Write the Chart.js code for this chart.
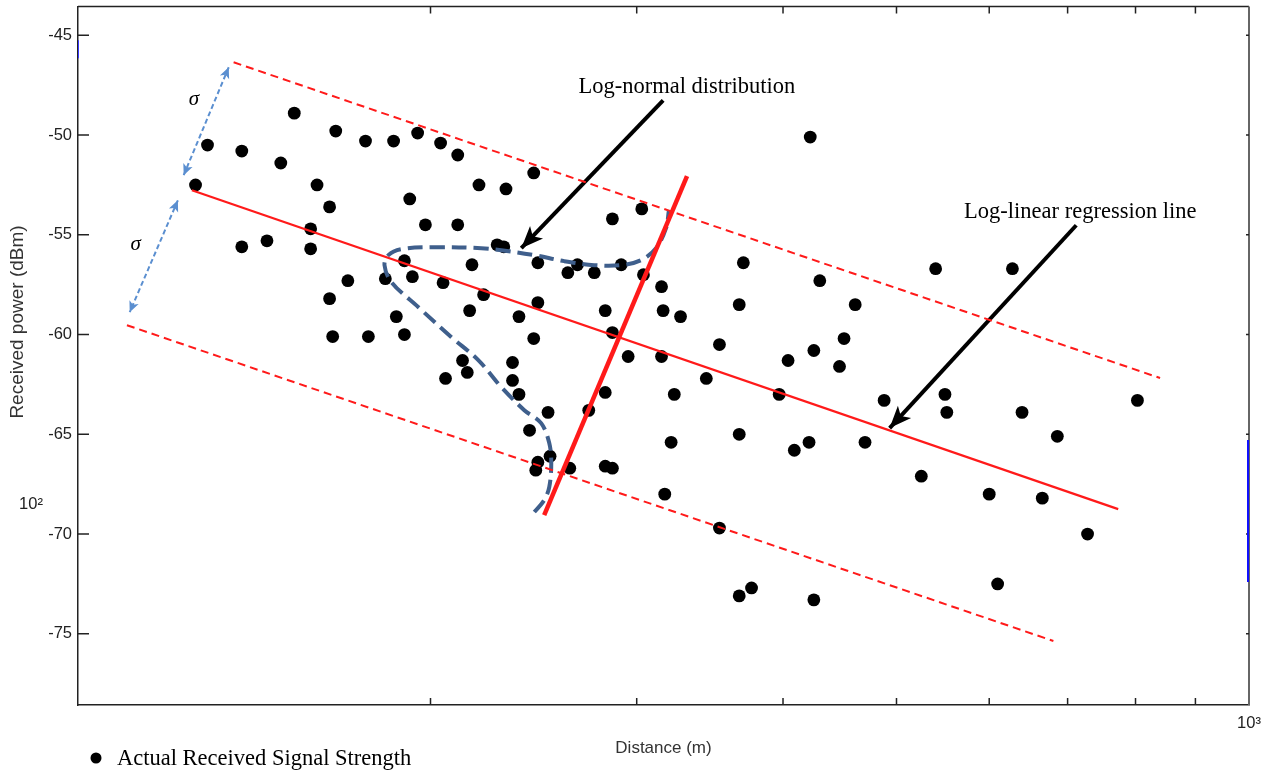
<!DOCTYPE html>
<html>
<head>
<meta charset="utf-8">
<script src="https://cdn.jsdelivr.net/npm/chart.js@4.4.1/dist/chart.umd.min.js"></script>
<style>
  html, body { margin: 0; padding: 0; background: #fff; }
  #wrap { width: 1266px; height: 773px; position: relative; }
</style>
</head>
<body>
<div id="wrap"><canvas id="chart"></canvas></div>
<script>
// measured received signal strength (distance in m, power in dBm)
const distance = [153, 129, 138, 149, 166, 176, 186, 195, 204, 211,
                  126, 160, 220, 164, 192, 198, 211, 228, 158, 138,
                  145, 158, 190, 217, 193, 183, 170, 205, 222, 164,
                  216, 187, 165, 177, 190, 213, 215, 206, 245, 232,
                  422, 303, 286, 231, 247, 262, 267, 276, 291, 304,
                  315, 370, 430, 461, 247, 238, 282, 316, 327, 367,
                  245, 286, 353, 451, 425, 295, 315, 404, 447, 235,
                  235, 238, 282, 323, 344, 397, 252, 273, 243, 321,
                  367, 421, 409, 470, 253, 247, 246, 263, 282, 286,
                  317, 353, 376, 367, 425, 540, 628, 488, 550, 552,
                  640, 803, 686, 525, 600, 666, 728, 610];
const power = [-48.9, -50.5, -50.8, -51.4, -49.8, -50.3, -50.3, -49.9, -50.4, -51.0,
               -52.5, -52.5, -52.5, -53.6, -53.2, -54.5, -54.5, -55.5, -54.7, -55.6,
               -55.3, -55.7, -56.3, -56.5, -57.1, -57.2, -57.3, -57.4, -58.0, -58.2,
               -58.8, -59.1, -60.1, -60.1, -60.0, -61.3, -61.9, -62.2, -51.9, -52.7,
               -50.1, -53.7, -54.2, -55.6, -56.4, -56.9, -56.5, -56.9, -56.5, -57.0,
               -57.6, -56.4, -57.3, -58.5, -58.4, -59.1, -58.8, -58.8, -59.1, -58.5,
               -60.2, -59.9, -60.5, -60.2, -60.8, -61.1, -61.1, -61.3, -61.6, -61.4,
               -62.3, -63.0, -62.9, -63.0, -62.2, -63.0, -63.9, -63.8, -64.8, -65.4,
               -65.0, -65.4, -65.8, -65.4, -66.1, -66.4, -66.8, -66.7, -66.6, -66.7,
               -68.0, -69.7, -72.7, -73.1, -73.3, -56.7, -56.7, -63.3, -63.0, -63.9,
               -63.9, -63.3, -65.1, -67.1, -68.0, -68.2, -70.0, -72.5];

// log-linear regression line and the +/- sigma band (end points)
const fitD = [125.1, 773.2];
const fitP = [-52.77, -68.75];
const upperD = [135.8, 839.6];
const upperP = [-46.35, -62.18];
const lowerD = [110.1, 680.7];
const lowerP = [-59.53, -75.36];

// axis and outline of the log-normal bump
const pdfAxisD = [250.1, 331.2];
const pdfAxisP = [-69.05, -52.06];
const pdfCurveD = [245.3, 250.1, 252.6, 253.6, 252.6, 248.6, 240.5, 229.9, 219.7, 208.4,
                   195.3, 185.2, 182.7, 184.1, 188.9, 201.5, 221.0, 229.9, 245.3, 260.1,
                   275.9, 290.9, 302.6, 311.6, 317.8, 319.6];
const pdfCurveP = [-68.9, -68.3, -67.65, -66.44, -65.44, -64.44, -63.79, -62.64, -61.28, -60.13,
                   -58.63, -57.37, -56.52, -56.02, -55.72, -55.62, -55.67, -55.77, -56.02, -56.32,
                   -56.52, -56.52, -56.27, -55.67, -54.67, -53.77];

// annotation arrows (start, tip)
const arrowPdfD = [316.0, 239.1];
const arrowPdfP = [-48.26, -55.67];
const arrowFitD = [712.0, 493.3];
const arrowFitP = [-54.52, -64.69];
const sigmaUpD = [134.5, 123.1];
const sigmaUpP = [-46.60, -52.01];
const sigmaLowD = [121.7, 110.7];
const sigmaLowP = [-53.27, -58.88];

// stray blue marks on the frame of the original figure
const markLeftD = [100, 100];
const markLeftP = [-45.25, -46.15];
const markRightD = [1000, 1000];
const markRightP = [-65.29, -72.4];

// ticks
const xTicks = [100, 200, 300, 400, 500, 600, 700, 800, 900, 1000];
const xTickLabels = ['', '', '', '', '', '', '', '', '', '10\u00b3'];
const yTicks = [-45, -50, -55, -60, -65, -70, -75];

// text notes
const notes = [
  { text: 'Log-normal distribution', x: 331.1, y: -47.6 },
  { text: 'Log-linear regression line', x: 717.7, y: -53.87 }
];
const sigmaNotes = [
  { x: 125.6, y: -48.2 },
  { x: 112.0, y: -55.5 }
];

const pts = (xs, ys) => xs.map((x, i) => ({ x: x, y: ys[i] }));

const lineSet = (label, xs, ys, color, width, dash, extra) => Object.assign({
  label: label,
  data: pts(xs, ys),
  showLine: true,
  borderColor: color,
  backgroundColor: color,
  borderWidth: width,
  borderDash: dash || [],
  pointRadius: 0,
  pointHoverRadius: 0,
  fill: false,
  order: 0
}, extra || {});

const sans = 'Liberation Sans, Arial, sans-serif';
const serif = 'Liberation Serif, Times New Roman, serif';

const decorPlugin = {
  id: 'decor',
  beforeDatasetsDraw(chart) {
    const ctx = chart.ctx;
    const xs = chart.scales.x, ys = chart.scales.y;
    const a = chart.chartArea;
    ctx.save();

    // frame: top and right
    ctx.strokeStyle = '#222';
    ctx.lineWidth = 1.5;
    ctx.beginPath();
    ctx.moveTo(a.left, a.top);
    ctx.lineTo(a.right, a.top);
    ctx.stroke();
    ctx.strokeStyle = '#666';
    ctx.lineWidth = 2;
    ctx.beginPath();
    ctx.moveTo(a.right, a.top);
    ctx.lineTo(a.right, a.bottom);
    ctx.stroke();

    // inward tick marks
    ctx.strokeStyle = '#222';
    ctx.lineWidth = 1.5;
    ctx.beginPath();
    yTicks.forEach(v => {
      const y = ys.getPixelForValue(v);
      ctx.moveTo(a.left, y); ctx.lineTo(a.left + 11, y);
      ctx.moveTo(a.right, y); ctx.lineTo(a.right - 3, y);
    });
    xTicks.slice(1, -1).forEach(v => {
      const x = xs.getPixelForValue(v);
      ctx.moveTo(x, a.bottom); ctx.lineTo(x, a.bottom - 7);
      ctx.moveTo(x, a.top); ctx.lineTo(x, a.top + 7);
    });
    ctx.stroke();
    ctx.restore();
  },
  afterDatasetsDraw(chart) {
    const ctx = chart.ctx;
    chart.data.datasets.forEach((ds, i) => {
      if (!ds.arrow) return;
      const p = chart.getDatasetMeta(i).data;
      const head = (a, b) => {
        const ang = Math.atan2(b.y - a.y, b.x - a.x);
        const L = ds.arrowLen, W = ds.arrowWidth / 2;
        const bx = b.x - L * Math.cos(ang), by = b.y - L * Math.sin(ang);
        ctx.beginPath();
        ctx.moveTo(b.x, b.y);
        ctx.lineTo(bx + W * Math.sin(ang), by - W * Math.cos(ang));
        ctx.lineTo(b.x - L * 0.75 * Math.cos(ang), b.y - L * 0.75 * Math.sin(ang));
        ctx.lineTo(bx - W * Math.sin(ang), by + W * Math.cos(ang));
        ctx.closePath();
        ctx.fillStyle = ds.borderColor;
        ctx.fill();
      };
      ctx.save();
      head(p[p.length - 2], p[p.length - 1]);
      if (ds.arrow === 'both') head(p[1], p[0]);
      ctx.restore();
    });
  },
  afterDraw(chart) {
    const ctx = chart.ctx;
    const xs = chart.scales.x, ys = chart.scales.y;
    ctx.save();

    // notes
    ctx.fillStyle = '#000';
    ctx.textAlign = 'center';
    ctx.textBaseline = 'middle';
    ctx.font = '22.5px ' + serif;
    notes.forEach(n => ctx.fillText(n.text, xs.getPixelForValue(n.x), ys.getPixelForValue(n.y)));
    ctx.font = 'italic 21px ' + serif;
    sigmaNotes.forEach(n => ctx.fillText('\u03c3', xs.getPixelForValue(n.x), ys.getPixelForValue(n.y)));

    // stray 10^2 label left of the axis
    ctx.fillStyle = '#222';
    ctx.font = '16.5px ' + sans;
    ctx.fillText('10\u00b2', 31, ys.getPixelForValue(-68.5));

    // y axis title
    ctx.save();
    ctx.translate(18, 322);
    ctx.rotate(-Math.PI / 2);
    ctx.font = '19px ' + sans;
    ctx.fillStyle = '#333';
    ctx.fillText('Received power (dBm)', 0, 0);
    ctx.restore();

    // legend
    ctx.fillStyle = '#000';
    ctx.beginPath();
    ctx.arc(96, 758, 5.5, 0, Math.PI * 2);
    ctx.fill();
    ctx.textAlign = 'left';
    ctx.font = '22.5px ' + serif;
    ctx.fillText(chart.data.datasets[0].label, 117, 759);

    ctx.restore();
  }
};

new Chart(document.getElementById('chart'), {
  type: 'scatter',
  data: {
    datasets: [
      {
        label: 'Actual Received Signal Strength',
        data: pts(distance, power),
        pointRadius: 6.4,
        pointHoverRadius: 6.4,
        backgroundColor: '#000',
        borderColor: '#000',
        borderWidth: 0,
        order: 2
      },
      lineSet('fit', fitD, fitP, '#ff1a1a', 2.2),
      lineSet('upper', upperD, upperP, '#ff1a1a', 2, [8, 5]),
      lineSet('lower', lowerD, lowerP, '#ff1a1a', 2, [8, 5]),
      lineSet('pdf axis', pdfAxisD, pdfAxisP, '#ff1a1a', 4.5),
      lineSet('pdf', pdfCurveD, pdfCurveP, '#3f5f8c', 4, [15, 7], { tension: 0.35 }),
      lineSet('arrow pdf', arrowPdfD, arrowPdfP, '#000', 4, [], { arrow: 'end', arrowLen: 22, arrowWidth: 18 }),
      lineSet('arrow fit', arrowFitD, arrowFitP, '#000', 4, [], { arrow: 'end', arrowLen: 22, arrowWidth: 18 }),
      lineSet('sigma up', sigmaUpD, sigmaUpP, '#5b8fd0', 2, [5, 3], { arrow: 'both', arrowLen: 11, arrowWidth: 10 }),
      lineSet('sigma low', sigmaLowD, sigmaLowP, '#5b8fd0', 2, [5, 3], { arrow: 'both', arrowLen: 11, arrowWidth: 10 }),
      lineSet('mark left', markLeftD, markLeftP, '#3a3aff', 2),
      lineSet('mark right', markRightD, markRightP, '#1010ff', 4)
    ]
  },
  options: {
    responsive: true,
    maintainAspectRatio: false,
    animation: false,
    layout: { padding: { top: 6, right: 17, left: 0, bottom: 0 } },
    plugins: {
      legend: { display: false },
      tooltip: { enabled: false }
    },
    scales: {
      x: {
        type: 'logarithmic',
        position: 'bottom',
        min: 100,
        max: 1000,
        afterBuildTicks: s => { s.ticks = xTicks.map(v => ({ value: v })); },
        afterFit: s => { s.height = 68; s.paddingLeft = 0; s.paddingRight = 0; },
        grid: { display: false, drawTicks: false },
        border: { display: true, color: '#222', width: 1.5 },
        ticks: {
          autoSkip: false,
          maxRotation: 0,
          padding: 9,
          color: '#222',
          font: { family: sans, size: 16.5 },
          callback: (v, i) => xTickLabels[i]
        },
        title: {
          display: true,
          text: 'Distance (m)',
          color: '#333',
          font: { family: sans, size: 17 },
          padding: { top: 0, bottom: 14 }
        }
      },
      y: {
        min: -78.57,
        max: -43.55,
        afterBuildTicks: s => { s.ticks = yTicks.map(v => ({ value: v })); },
        afterFit: s => { s.width = 78; s.paddingTop = 0; s.paddingBottom = 0; },
        grid: { display: false, drawTicks: false },
        border: { display: true, color: '#222', width: 1.5 },
        ticks: {
          padding: 6,
          color: '#222',
          font: { family: sans, size: 16.5 },
          callback: v => String(v)
        }
      }
    }
  },
  plugins: [decorPlugin]
});
</script>
</body>
</html>
